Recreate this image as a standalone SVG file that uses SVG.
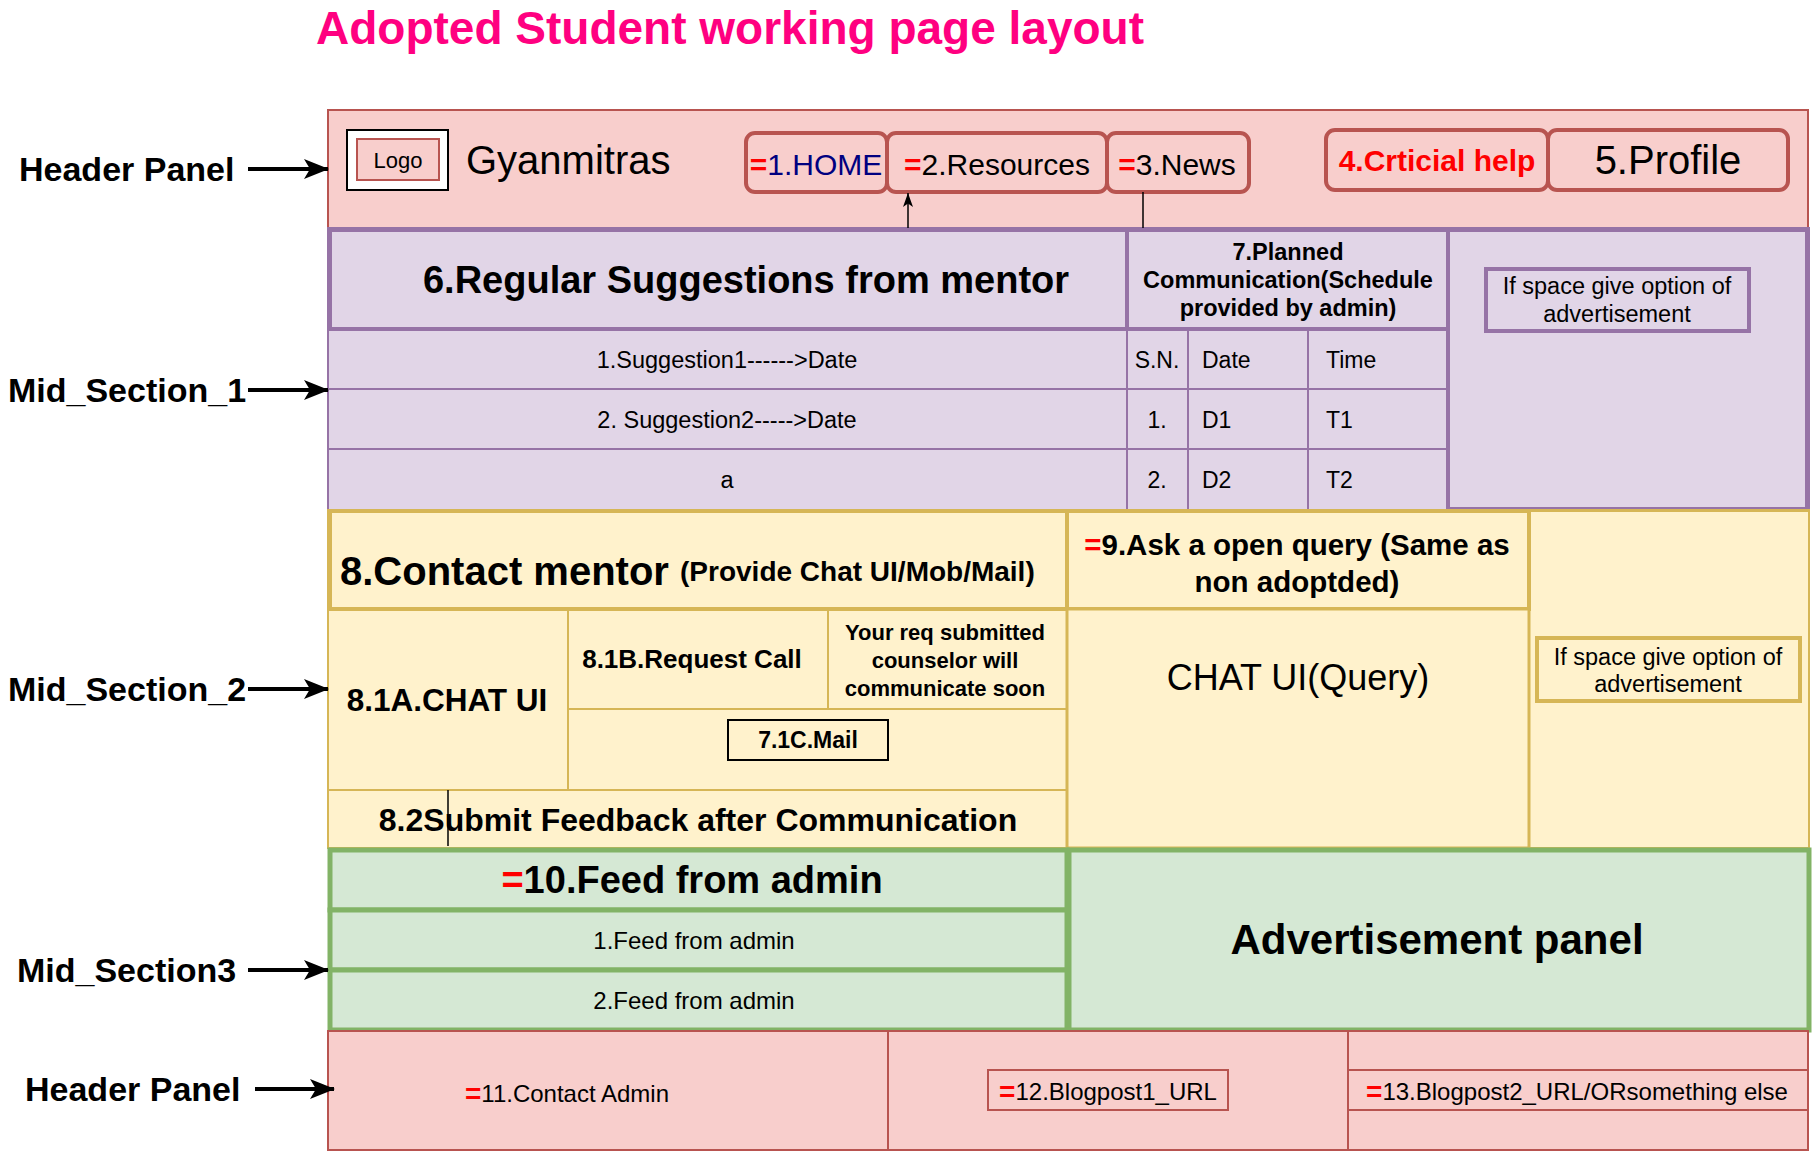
<svg xmlns="http://www.w3.org/2000/svg" width="1816" height="1154" viewBox="0 0 1816 1154">
<defs>
<style>
text{font-family:"Liberation Sans",Arial,Helvetica,sans-serif;fill:#000}
.b{font-weight:bold}
.c{text-anchor:middle;dominant-baseline:central}
.l{dominant-baseline:central}
.eq{fill:#FF0000;font-weight:bold}
.hdr{fill:#f8cecc;stroke:#b85450}
.pur{fill:#e1d5e7;stroke:#9673a6}
.yel{fill:#fff2cc;stroke:#d6b656}
.grn{fill:#d5e8d4;stroke:#82b366}
.w2{stroke-width:2}
.w3{stroke-width:3}
.w4{stroke-width:4}
.w5{stroke-width:5}
.nav{stroke-width:4;fill:#f8cecc;stroke:#b85450}
.lab{font-size:34px;font-weight:bold;dominant-baseline:central}
.big{stroke:#000;stroke-width:4;fill:none}
.thin{stroke:#000;stroke-width:1.5;fill:none}
</style>
<marker id="ah" markerUnits="userSpaceOnUse" markerWidth="26" markerHeight="22" refX="24" refY="10" orient="auto" viewBox="0 0 26 22">
<path d="M0,0 L25,10 L0,20 L6,10 Z" fill="#000"/>
</marker>
<marker id="ahs" markerUnits="userSpaceOnUse" markerWidth="16" markerHeight="12" refX="14" refY="5" orient="auto" viewBox="0 0 16 12">
<path d="M0,0 L14,5 L0,10 L3.5,5 Z" fill="#000"/>
</marker>
</defs>
<rect width="1816" height="1154" fill="#fff"/>

<g id="title">
<text x="316" y="44" class="b" style="font-size:46px;fill:#FF0080">Adopted Student working page layout</text>
</g>

<g id="header-panel">
<rect x="328" y="110" width="1480" height="118" class="hdr w2"/>
</g>
<g id="logo">
<rect x="347" y="130" width="101" height="60" fill="#fff" stroke="#000" stroke-width="2"/>
<rect x="357" y="139" width="82" height="41" class="hdr w2"/>
<text x="398" y="160" class="c" style="font-size:22px">Logo</text>
</g>
<g id="brand">
<text x="466" y="160" class="l" style="font-size:40px">Gyanmitras</text>
</g>
<g id="nav-home">
<rect x="746" y="133" width="141" height="59" rx="9" class="nav"/>
<text x="816" y="164" class="c" style="font-size:30px"><tspan class="eq">=</tspan><tspan style="fill:#000080">1.HOME</tspan></text>
</g>
<g id="nav-resources">
<rect x="887" y="133" width="220" height="59" rx="9" class="nav"/>
<text x="997" y="164" class="c" style="font-size:30px"><tspan class="eq">=</tspan>2.Resources</text>
</g>
<g id="nav-news">
<rect x="1107" y="133" width="142" height="59" rx="9" class="nav"/>
<text x="1177" y="164" class="c" style="font-size:30px"><tspan class="eq">=</tspan>3.News</text>
</g>
<g id="nav-critical">
<rect x="1326" y="130" width="222" height="60" rx="9" class="nav"/>
<text x="1437" y="160" class="c b" style="font-size:30px;fill:#FF0000">4.Crticial help</text>
</g>
<g id="nav-profile">
<rect x="1548" y="130" width="240" height="60" rx="9" class="nav"/>
<text x="1668" y="160" class="c" style="font-size:40px">5.Profile</text>
</g>

<g id="mid-section-1">
<rect x="328" y="228" width="1481" height="282" class="pur w2"/>
<rect x="328" y="329" width="799" height="60" class="pur w2"/>
<rect x="328" y="389" width="799" height="60" class="pur w2"/>
<rect x="328" y="449" width="799" height="61" class="pur w2"/>
<rect x="1127" y="329" width="61" height="60" class="pur w2"/>
<rect x="1127" y="389" width="61" height="60" class="pur w2"/>
<rect x="1127" y="449" width="61" height="61" class="pur w2"/>
<rect x="1188" y="329" width="120" height="60" class="pur w2"/>
<rect x="1188" y="389" width="120" height="60" class="pur w2"/>
<rect x="1188" y="449" width="120" height="61" class="pur w2"/>
<rect x="1308" y="329" width="140" height="60" class="pur w2"/>
<rect x="1308" y="389" width="140" height="60" class="pur w2"/>
<rect x="1308" y="449" width="140" height="61" class="pur w2"/>
<text x="727" y="360" class="c" style="font-size:23.5px">1.Suggestion1------&gt;Date</text>
<text x="727" y="420" class="c" style="font-size:23.5px">2. Suggestion2-----&gt;Date</text>
<text x="727" y="480" class="c" style="font-size:23.5px">a</text>
<text x="1157" y="360" class="c" style="font-size:23px">S.N.</text>
<text x="1157" y="420" class="c" style="font-size:23px">1.</text>
<text x="1157" y="480" class="c" style="font-size:23px">2.</text>
<text x="1202" y="360" class="l" style="font-size:23px">Date</text>
<text x="1202" y="420" class="l" style="font-size:23px">D1</text>
<text x="1202" y="480" class="l" style="font-size:23px">D2</text>
<text x="1326" y="360" class="l" style="font-size:23px">Time</text>
<text x="1326" y="420" class="l" style="font-size:23px">T1</text>
<text x="1326" y="480" class="l" style="font-size:23px">T2</text>
</g>
<g id="regular-suggestions">
<rect x="330" y="230" width="797" height="99" class="pur w4"/>
<text x="746" y="280" class="c b" style="font-size:38px">6.Regular Suggestions from mentor</text>
</g>
<g id="planned-communication">
<rect x="1127" y="230" width="321" height="99" class="pur w4"/>
<text x="1288" y="252" class="c b" style="font-size:23.5px">7.Planned</text>
<text x="1288" y="280" class="c b" style="font-size:23.5px">Communication(Schedule</text>
<text x="1288" y="308" class="c b" style="font-size:23.5px">provided by admin)</text>
</g>
<g id="ad-area-1">
<rect x="1448" y="230" width="359" height="279" class="pur w4"/>
<rect x="1486" y="269" width="263" height="62" class="pur w4"/>
<text x="1617" y="286" class="c" style="font-size:23.5px">If space give option of</text>
<text x="1617" y="314" class="c" style="font-size:23.5px">advertisement</text>
</g>

<g id="mid-section-2">
<rect x="328" y="510" width="1481" height="338" class="yel w2"/>
<rect x="328" y="609" width="240" height="181" class="yel w2"/>
<rect x="568" y="609" width="260" height="100" class="yel w2"/>
<rect x="828" y="609" width="239" height="100" class="yel w2"/>
<rect x="568" y="709" width="499" height="81" class="yel w2"/>
<rect x="328" y="790" width="739" height="58" class="yel w2"/>
<rect x="1529" y="511" width="280" height="337" class="yel w2"/>
<text x="447" y="700" class="c b" style="font-size:31.5px">8.1A.CHAT UI</text>
<text x="692" y="659" class="c b" style="font-size:26px">8.1B.Request Call</text>
<text x="945" y="632" class="c b" style="font-size:22px">Your req submitted</text>
<text x="945" y="660" class="c b" style="font-size:22px">counselor will</text>
<text x="945" y="688" class="c b" style="font-size:22px">communicate soon</text>
<text x="698" y="820" class="c b" style="font-size:32px">8.2Submit Feedback after Communication</text>
</g>
<g id="mail">
<rect x="728" y="720" width="160" height="40" fill="#fff2cc" stroke="#000" stroke-width="2"/>
<text x="808" y="740" class="c b" style="font-size:23px">7.1C.Mail</text>
</g>
<g id="contact-mentor">
<rect x="330" y="511" width="737" height="98" class="yel w4"/>
<text x="340" y="571" class="l b" style="font-size:40px">8.Contact mentor <tspan style="font-size:28px">(Provide Chat UI/Mob/Mail)</tspan></text>
</g>
<g id="open-query">
<rect x="1067" y="511" width="462" height="98" class="yel w4"/>
<text x="1297" y="544" class="c b" style="font-size:29.5px"><tspan class="eq">=</tspan>9.Ask a open query (Same as</text>
<text x="1297" y="581" class="c b" style="font-size:29.5px">non adoptded)</text>
</g>
<g id="chat-query">
<rect x="1067" y="609" width="462" height="239" class="yel w3"/>
<text x="1298" y="677" class="c" style="font-size:36px">CHAT UI(Query)</text>
</g>
<g id="ad-area-2">
<rect x="1537" y="638" width="263" height="63" class="yel w4"/>
<text x="1668" y="657" class="c" style="font-size:23.5px">If space give option of</text>
<text x="1668" y="684" class="c" style="font-size:23.5px">advertisement</text>
</g>

<g id="feed-admin">
<rect x="330" y="850" width="737" height="60" class="grn w5"/>
<rect x="330" y="910" width="737" height="60" class="grn w5"/>
<rect x="330" y="970" width="737" height="60" class="grn w5"/>
<text x="692" y="880" class="c b" style="font-size:38px"><tspan class="eq">=</tspan>10.Feed from admin</text>
<text x="694" y="940" class="c" style="font-size:24px">1.Feed from admin</text>
<text x="694" y="1000" class="c" style="font-size:24px">2.Feed from admin</text>
</g>
<g id="advertisement-panel">
<rect x="1069" y="850" width="740" height="180" class="grn w5"/>
<text x="1437" y="939" class="c b" style="font-size:42px">Advertisement panel</text>
</g>

<g id="footer">
<rect x="328" y="1031" width="1480" height="119" class="hdr w2"/>
<line x1="888" y1="1031" x2="888" y2="1150" stroke="#b85450" stroke-width="2"/>
<line x1="1348" y1="1031" x2="1348" y2="1150" stroke="#b85450" stroke-width="2"/>
<text x="567" y="1093" class="c" style="font-size:24px"><tspan class="eq" style="font-size:28px">=</tspan>11.Contact Admin</text>
</g>
<g id="blogpost1">
<rect x="988" y="1070" width="240" height="40" class="hdr w2"/>
<text x="1108" y="1091" class="c" style="font-size:24px"><tspan class="eq" style="font-size:28px">=</tspan>12.Blogpost1_URL</text>
</g>
<g id="blogpost2">
<rect x="1348" y="1070" width="460" height="40" class="hdr w2"/>
<text x="1577" y="1091" class="c" style="font-size:24px"><tspan class="eq" style="font-size:28px">=</tspan>13.Blogpost2_URL/ORsomething else</text>
</g>

<g id="labels">
<text x="19" y="169" class="lab">Header Panel</text>
<text x="8" y="390" class="lab">Mid_Section_1</text>
<text x="8" y="689" class="lab">Mid_Section_2</text>
<text x="17" y="970" class="lab">Mid_Section3</text>
<text x="25" y="1089" class="lab">Header Panel</text>
</g>

<g id="connectors">
<line x1="248" y1="169" x2="328" y2="169" class="big" marker-end="url(#ah)"/>
<line x1="248" y1="390" x2="328" y2="390" class="big" marker-end="url(#ah)"/>
<line x1="248" y1="689" x2="328" y2="689" class="big" marker-end="url(#ah)"/>
<line x1="248" y1="970" x2="328" y2="970" class="big" marker-end="url(#ah)"/>
<line x1="255" y1="1089" x2="334" y2="1089" class="big" marker-end="url(#ah)"/>
<line x1="908" y1="228" x2="908" y2="193" class="thin" marker-end="url(#ahs)"/>
<line x1="1143" y1="192" x2="1143" y2="228" class="thin"/>
<line x1="448" y1="790" x2="448" y2="846" class="thin"/>
</g>
</svg>
